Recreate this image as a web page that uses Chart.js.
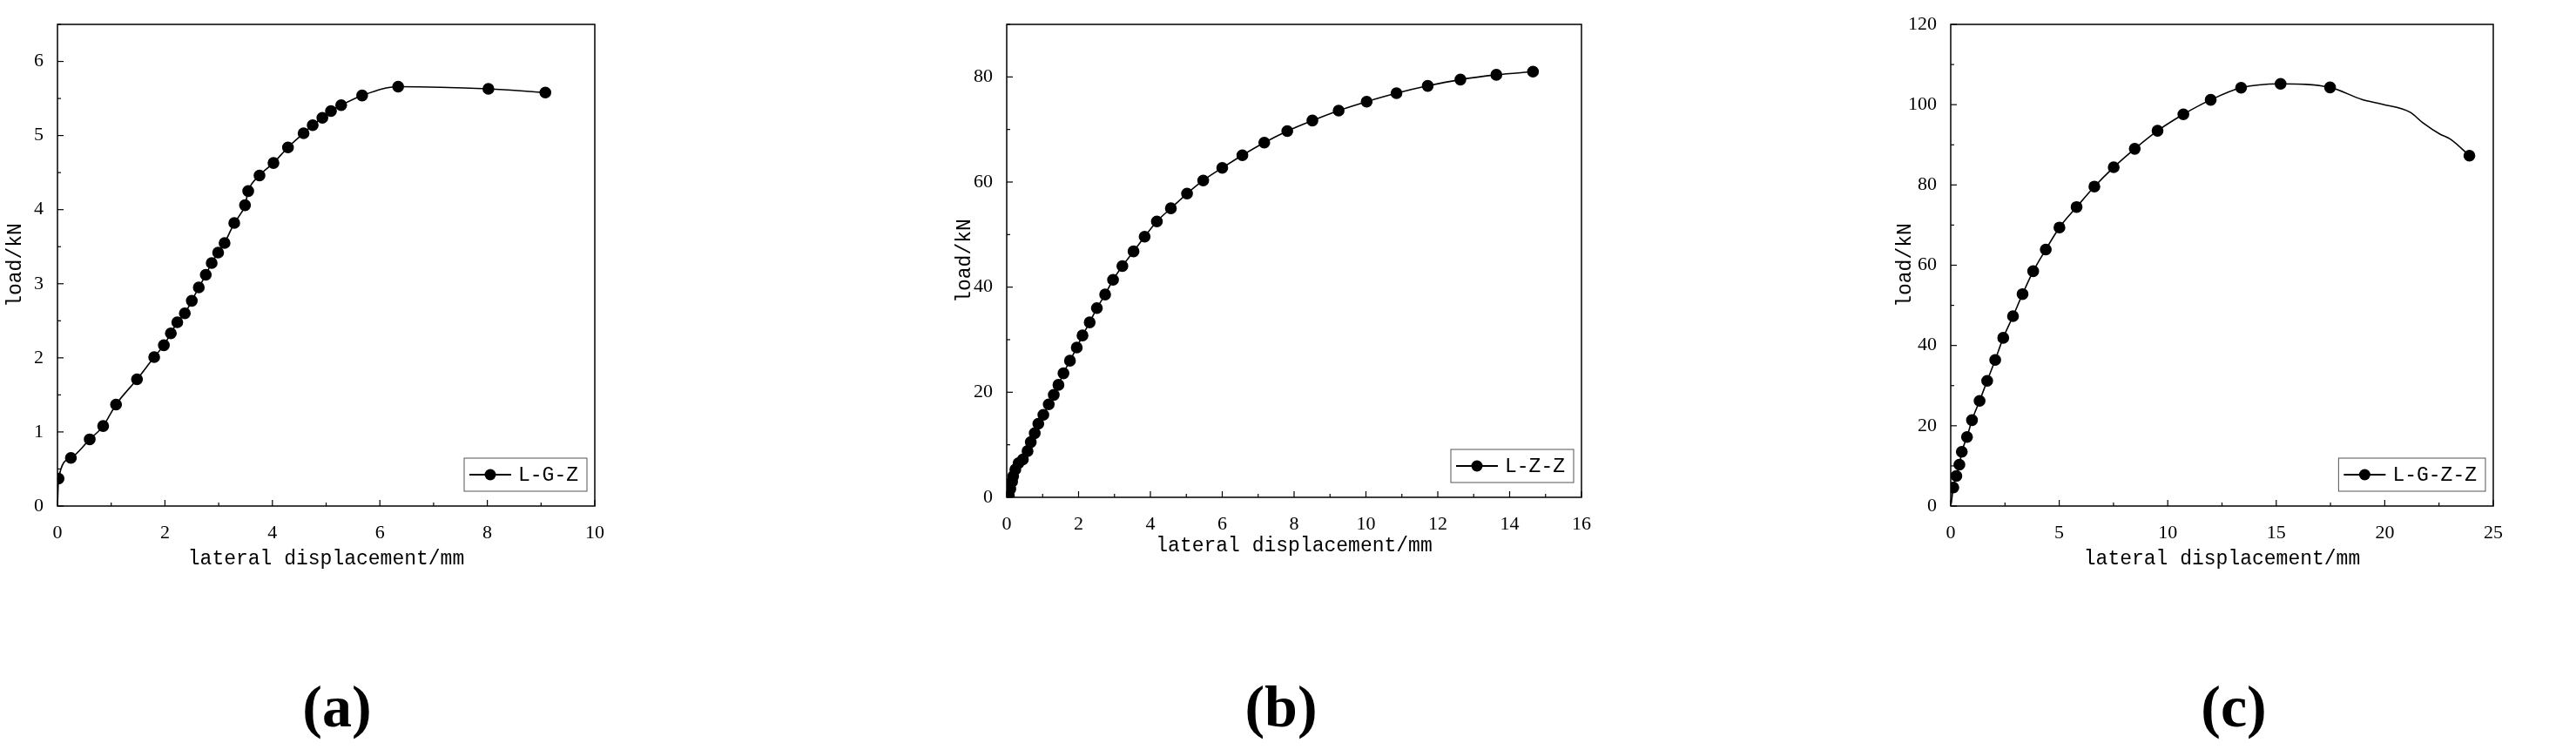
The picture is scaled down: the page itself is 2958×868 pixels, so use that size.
<!DOCTYPE html>
<html>
<head>
<meta charset="utf-8">
<script src="https://cdn.jsdelivr.net/npm/chart.js@4.4.0/dist/chart.umd.min.js"></script>
<style>
  body { margin: 0; background: #fff; width: 2958px; height: 868px; position: relative; overflow: hidden; }
  canvas { position: absolute; }
  .tag { position: absolute; font: bold 68px "Liberation Serif", serif; transform: translate(-50%, -50%); }
</style>
</head>
<body>
<canvas id="chartA" width="720" height="660" style="left:0;top:0"></canvas>
<canvas id="chartB" width="770" height="645" style="left:1090px;top:0"></canvas>
<canvas id="chartC" width="730" height="660" style="left:2170px;top:0"></canvas>
<div class="tag" style="left:387px;top:811px">(a)</div>
<div class="tag" style="left:1471px;top:811px">(b)</div>
<div class="tag" style="left:2565px;top:811px">(c)</div>
<script>
// Panel (a) L-G-Z
const aDisp = [0, 0.02, 0.25, 0.6, 0.85, 1.09, 1.48, 1.8, 1.98, 2.11, 2.23, 2.37, 2.5, 2.63, 2.76, 2.87, 2.99, 3.11, 3.29, 3.49, 3.55, 3.76, 4.02, 4.29, 4.58, 4.75, 4.93, 5.09, 5.28, 5.67, 6.34, 8.02, 9.08];
const aLoad = [0, 0.37, 0.65, 0.9, 1.08, 1.37, 1.71, 2.01, 2.17, 2.33, 2.48, 2.6, 2.77, 2.95, 3.12, 3.28, 3.42, 3.55, 3.82, 4.06, 4.25, 4.46, 4.63, 4.84, 5.03, 5.14, 5.24, 5.33, 5.41, 5.54, 5.66, 5.63, 5.58];
const aMarked = aDisp.map((v, i) => i > 0);

// Panel (b) L-Z-Z
const bDisp = [0.06, 0.1, 0.15, 0.18, 0.24, 0.33, 0.45, 0.58, 0.67, 0.78, 0.88, 1.02, 1.17, 1.31, 1.44, 1.58, 1.76, 1.95, 2.11, 2.31, 2.51, 2.74, 2.96, 3.22, 3.53, 3.84, 4.18, 4.57, 5.02, 5.47, 6.0, 6.56, 7.17, 7.81, 8.51, 9.24, 10.02, 10.85, 11.72, 12.63, 13.63, 14.65];
const bLoad = [0.3, 1.6, 3, 4, 5.3, 6.5, 7.2, 8.8, 10.5, 12.2, 14, 15.7, 17.7, 19.5, 21.4, 23.6, 26, 28.5, 30.8, 33.3, 36, 38.6, 41.4, 44, 46.8, 49.6, 52.5, 55, 57.8, 60.3, 62.7, 65.1, 67.5, 69.7, 71.7, 73.6, 75.3, 76.9, 78.3, 79.5, 80.4, 81];
const bMarked = bDisp.map(() => true);

// Panel (c) L-G-Z-Z
const cDisp = [0.02, 0.12, 0.26, 0.4, 0.51, 0.75, 0.98, 1.33, 1.68, 2.05, 2.42, 2.87, 3.31, 3.8, 4.38, 5.01, 5.8, 6.62, 7.51, 8.48, 9.53, 10.72, 11.98, 13.38, 15.2, 17.48, 18.95, 19.9, 21.17, 21.75, 22.56, 23.03, 23.9];
const cLoad = [0.5, 4.6, 7.5, 10.3, 13.5, 17.2, 21.4, 26.2, 31.2, 36.4, 41.9, 47.3, 52.8, 58.5, 63.9, 69.4, 74.5, 79.6, 84.4, 89, 93.5, 97.6, 101.2, 104.2, 105.2, 104.3, 101.3, 100.1, 98.1, 95.5, 92.6, 91.4, 87.3];
const cMarked = [false, true, true, true, true, true, true, true, true, true, true, true, true, true, true, true, true, true, true, true, true, true, true, true, true, true, false, false, false, false, false, false, true];

const tickFont = { family: 'Liberation Serif', size: 22 };
const titleFont = { family: 'Liberation Mono', size: 23 };

// frame, inward ticks and an inside legend box
const framePlugin = {
    id: 'frame',
    afterDraw(chart, args, opts) {
        const ctx = chart.ctx;
        const area = chart.chartArea;
        const xs = chart.scales.x, ys = chart.scales.y;
        ctx.save();
        ctx.strokeStyle = '#000';
        ctx.lineWidth = 1.5;
        ctx.strokeRect(area.left, area.top, area.right - area.left, area.bottom - area.top);
        ctx.lineWidth = 1.2;
        for (let v = xs.min; v <= xs.max + 1e-9; v += opts.xStep / 2) {
            const px = xs.getPixelForValue(v);
            const major = Math.abs(v / opts.xStep - Math.round(v / opts.xStep)) < 1e-6;
            ctx.beginPath();
            ctx.moveTo(px, area.bottom);
            ctx.lineTo(px, area.bottom - (major ? 7 : 4));
            ctx.stroke();
        }
        for (let v = ys.min; v <= ys.max + 1e-9; v += opts.yStep / 2) {
            const py = ys.getPixelForValue(v);
            const major = Math.abs(v / opts.yStep - Math.round(v / opts.yStep)) < 1e-6;
            ctx.beginPath();
            ctx.moveTo(area.left, py);
            ctx.lineTo(area.left + (major ? 7 : 4), py);
            ctx.stroke();
        }
        // legend
        const label = chart.data.datasets[0].label;
        ctx.font = '23px "Liberation Mono"';
        const tw = ctx.measureText(label).width;
        const w = 62 + tw + 10, h = 38;
        const x0 = area.right - 9 - w, y0 = area.bottom - 17 - h;
        ctx.lineWidth = 1;
        ctx.strokeStyle = '#555';
        ctx.strokeRect(x0, y0, w, h);
        ctx.strokeStyle = '#000';
        ctx.lineWidth = 2;
        ctx.beginPath();
        ctx.moveTo(x0 + 6, y0 + h / 2);
        ctx.lineTo(x0 + 54, y0 + h / 2);
        ctx.stroke();
        ctx.beginPath();
        ctx.arc(x0 + 30, y0 + h / 2, 6.5, 0, Math.PI * 2);
        ctx.fillStyle = '#000';
        ctx.fill();
        ctx.textBaseline = 'middle';
        ctx.fillText(label, x0 + 62, y0 + h / 2 + 1);
        ctx.restore();
    }
};

function makeChart(id, label, disp, load, marked, xMax, xStep, yMax, yStep, yWidth, xHeight, padRight) {
    const points = disp.map((x, i) => ({ x: x, y: load[i] }));
    // keep only labels on whole steps (drop the odd axis maximum)
    const onStep = step => s => {
        s.ticks = s.ticks.filter(t => Math.abs(t.value / step - Math.round(t.value / step)) < 1e-6);
    };
    return new Chart(document.getElementById(id), {
        type: 'scatter',
        data: {
            datasets: [{
                label: label,
                data: points,
                showLine: true,
                borderColor: '#000',
                backgroundColor: '#000',
                borderWidth: 1.6,
                cubicInterpolationMode: 'monotone',
                pointRadius: ctx => marked[ctx.dataIndex] ? 6 : 0,
                pointHoverRadius: 0
            }]
        },
        options: {
            responsive: false,
            animation: false,
            devicePixelRatio: 1,
            layout: { padding: { top: 28, right: padRight, left: 0, bottom: 0 } },
            plugins: {
                legend: { display: false },
                tooltip: { enabled: false },
                frame: { xStep: xStep, yStep: yStep }
            },
            scales: {
                x: {
                    type: 'linear', min: 0, max: xMax,
                    grid: { display: false },
                    border: { display: false },
                    ticks: { stepSize: xStep, color: '#000', font: tickFont, padding: 10, maxRotation: 0 },
                    title: { display: true, text: 'lateral displacement/mm', color: '#000', font: titleFont },
                    afterBuildTicks: onStep(xStep),
                    afterFit: s => { s.height = xHeight; }
                },
                y: {
                    type: 'linear', min: 0, max: yMax,
                    grid: { display: false },
                    border: { display: false },
                    ticks: { stepSize: yStep, color: '#000', font: tickFont, padding: 8 },
                    title: { display: true, text: 'load/kN', color: '#000', font: titleFont },
                    afterBuildTicks: onStep(yStep),
                    afterFit: s => { s.width = yWidth; }
                }
            }
        },
        plugins: [framePlugin]
    });
}

makeChart('chartA', 'L-G-Z', aDisp, aLoad, aMarked, 10, 2, 6.5, 1, 66, 79, 37);
makeChart('chartB', 'L-Z-Z', bDisp, bLoad, bMarked, 16, 2, 90, 20, 66, 74, 44);
makeChart('chartC', 'L-G-Z-Z', cDisp, cLoad, cMarked, 25, 5, 120, 20, 70, 79, 37);
</script>
</body>
</html>
